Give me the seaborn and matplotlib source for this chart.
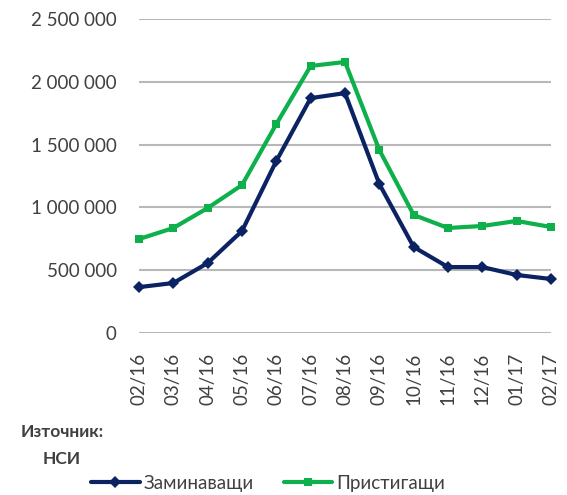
import matplotlib
matplotlib.use("Agg")
import matplotlib.pyplot as plt
import seaborn as sns
import pandas as pd
from matplotlib.ticker import FuncFormatter
from matplotlib.lines import Line2D

months = ["02/16", "03/16", "04/16", "05/16", "06/16", "07/16", "08/16",
          "09/16", "10/16", "11/16", "12/16", "01/17", "02/17"]
departing = [365000, 398000, 557000, 812000, 1370000, 1870000, 1910000,
             1186000, 685000, 525000, 525000, 462000, 430000]
arriving = [748000, 836000, 995000, 1178000, 1664000, 2126000, 2158000,
            1457000, 940000, 836000, 852000, 892000, 844000]
series_names = ["Заминаващи", "Пристигащи"]
yticks = [0, 500000, 1000000, 1500000, 2000000, 2500000]

sns.set_theme(style="white")
plt.rcParams['font.family'] = ['Lato', 'DejaVu Sans']

df = pd.concat([
    pd.DataFrame({"x": range(len(months)), "v": departing, "s": series_names[0]}),
    pd.DataFrame({"x": range(len(months)), "v": arriving, "s": series_names[1]}),
])

navy = "#0B2263"
green = "#0DB04B"
text_c = "#404040"

fig = plt.figure(figsize=(5.67, 4.95), dpi=100)
ax = fig.add_axes([139/567, 1-333/495, (551-139)/567, (333-19)/495])

sns.lineplot(data=df, x="x", y="v", hue="s", style="s",
             palette={series_names[0]: navy, series_names[1]: green},
             markers={series_names[0]: "D", series_names[1]: "s"},
             dashes=False, linewidth=3, markersize=6, markeredgewidth=0,
             ax=ax, legend=False, clip_on=False, zorder=3)

ax.set_xlim(0, len(months) - 1)
ax.set_ylim(0, 2500000)
ax.set_yticks(yticks)
ax.yaxis.set_major_formatter(FuncFormatter(lambda v, p: f"{int(v):,}".replace(",", " ")))
ax.set_xticks(range(len(months)))
ax.set_xticklabels(months, rotation=90)
ax.tick_params(axis="y", labelsize=13.5, colors=text_c, pad=16, length=0)
ax.tick_params(axis="x", labelsize=13.5, colors=text_c, pad=14, length=0)
ax.grid(axis="y", color="#B8B8B8", linewidth=1.5)
ax.grid(axis="x", visible=False)
for s in ax.spines.values():
    s.set_visible(False)
ax.set_xlabel("")
ax.set_ylabel("")

fig.text(62/567, 1-432/495, "Източник:", fontsize=12.5, fontweight="bold",
         color=text_c, ha="center", va="center")
fig.text(62/567, 1-459/495, "НСИ", fontsize=12.5, fontweight="bold",
         color=text_c, ha="center", va="center")

handles = [Line2D([], [], color=navy, lw=3, marker="D", markersize=6, markeredgewidth=0),
           Line2D([], [], color=green, lw=3, marker="s", markersize=6, markeredgewidth=0)]
fig.legend(handles, series_names, loc="center", bbox_to_anchor=(268/567, 1-483/495),
           ncol=2, frameon=False, fontsize=13.5, handlelength=2.6, handletextpad=0.2,
           columnspacing=1.6, labelcolor=text_c)

fig.savefig("out.png", dpi=100)
